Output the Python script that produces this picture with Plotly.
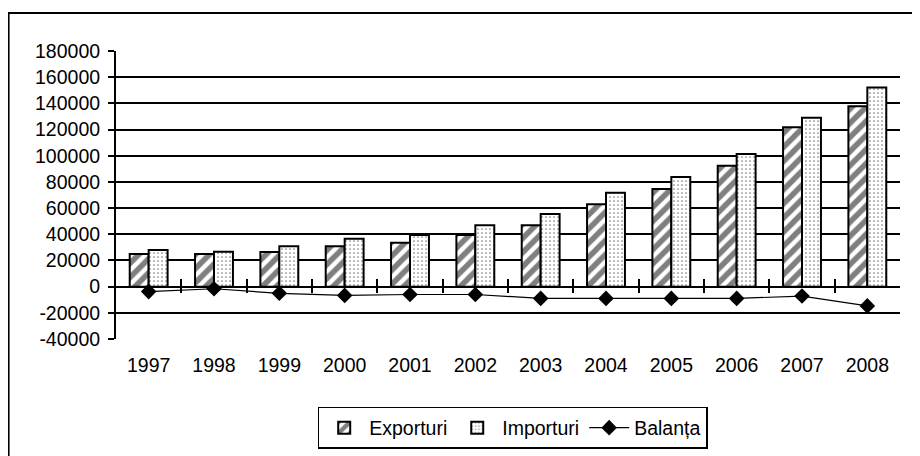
import plotly.graph_objects as go

years = ["1997", "1998", "1999", "2000", "2001", "2002", "2003", "2004", "2005", "2006", "2007", "2008"]
exporturi = [25000, 25000, 26500, 30800, 33600, 39400, 46800, 63000, 74600, 92400, 121700, 137700]
importuri = [27900, 26700, 30800, 36600, 39400, 46800, 55500, 71800, 83700, 101300, 129000, 152200]
balanta = [-3800, -1600, -5100, -6700, -6000, -6000, -9000, -9000, -9000, -9000, -7200, -14700]
y_ticks = [-40000, -20000, 0, 20000, 40000, 60000, 80000, 100000, 120000, 140000, 160000, 180000]
y_labels = ["-40000", "-20000", "0", "20000", "40000", "60000", "80000", "100000",
            "120000", "140000", "160000", "180000"]
y_range = [-40000, 180000]

FONT = "Liberation Sans, Arial, sans-serif"
FS = 19.5

fig = go.Figure()
fig.add_trace(go.Bar(
    x=years, y=exporturi, name="Exporturi",
    marker=dict(color="white", line=dict(color="black", width=2),
                pattern=dict(shape="/", fgcolor="black", bgcolor="white", size=10, solidity=0.55)),
))
fig.add_trace(go.Bar(
    x=years, y=importuri, name="Importuri",
    marker=dict(color="white", line=dict(color="black", width=2),
                pattern=dict(shape=".", fgcolor="black", bgcolor="white", size=4, solidity=0.15)),
))
fig.add_trace(go.Scatter(
    x=years, y=balanta, name="Balanța", mode="lines+markers",
    line=dict(color="black", width=1.2),
    marker=dict(symbol="diamond", size=12, color="black"),
))
# empty helper traces registering the zero-line category axes
fig.add_trace(go.Scatter(x=[], y=[], xaxis="x2", showlegend=False, hoverinfo="skip"))
fig.add_trace(go.Scatter(x=[], y=[], xaxis="x3", showlegend=False, hoverinfo="skip"))

zero_pos = (0 - y_range[0]) / (y_range[1] - y_range[0])
boundaries = [i + 0.5 for i in range(len(years) - 1)]

fig.update_layout(
    width=904, height=460,
    margin=dict(l=108, r=12, t=43, b=129, autoexpand=False),
    paper_bgcolor="white", plot_bgcolor="white",
    font=dict(family=FONT, size=FS, color="black"),
    barmode="group", bargap=0.42, bargroupgap=0,
    showlegend=True,
    legend=dict(orientation="h", x=0.506, xanchor="center", y=-0.236, yanchor="top",
                bordercolor="black", borderwidth=1.5, font=dict(size=FS, family=FONT),
                traceorder="normal", itemwidth=40, bgcolor="white"),
    xaxis=dict(type="category", range=[-0.5, 11.5], showline=False, ticks="",
               showgrid=False, zeroline=False, tickfont=dict(size=FS), ticklabelstandoff=12,
               automargin=False),
    xaxis2=dict(overlaying="x", anchor="free", position=zero_pos, range=[-0.5, 11.5],
                showline=True, linecolor="black", linewidth=2, ticks="outside", ticklen=5,
                tickwidth=2, tickcolor="black", tickvals=boundaries, showticklabels=False,
                showgrid=False, zeroline=False),
    xaxis3=dict(overlaying="x", anchor="free", position=zero_pos, range=[-0.5, 11.5],
                showline=False, ticks="inside", ticklen=8, tickwidth=2, tickcolor="black",
                tickvals=boundaries, showticklabels=False, showgrid=False, zeroline=False),
    yaxis=dict(range=y_range, tickvals=y_ticks, ticktext=y_labels, showline=True,
               linecolor="black", linewidth=2, ticks="outside", ticklen=6, tickwidth=2,
               tickcolor="black", showgrid=True, gridcolor="black", gridwidth=1.5,
               zeroline=False, tickfont=dict(size=FS), ticklabelstandoff=4, automargin=False),
    shapes=[dict(type="rect", xref="paper", yref="paper", x0=-0.137, x1=1.06, y0=-0.6, y1=1.132,
                 line=dict(color="black", width=2), fillcolor="rgba(0,0,0,0)", layer="below")],
)

fig.write_html("out.html")
